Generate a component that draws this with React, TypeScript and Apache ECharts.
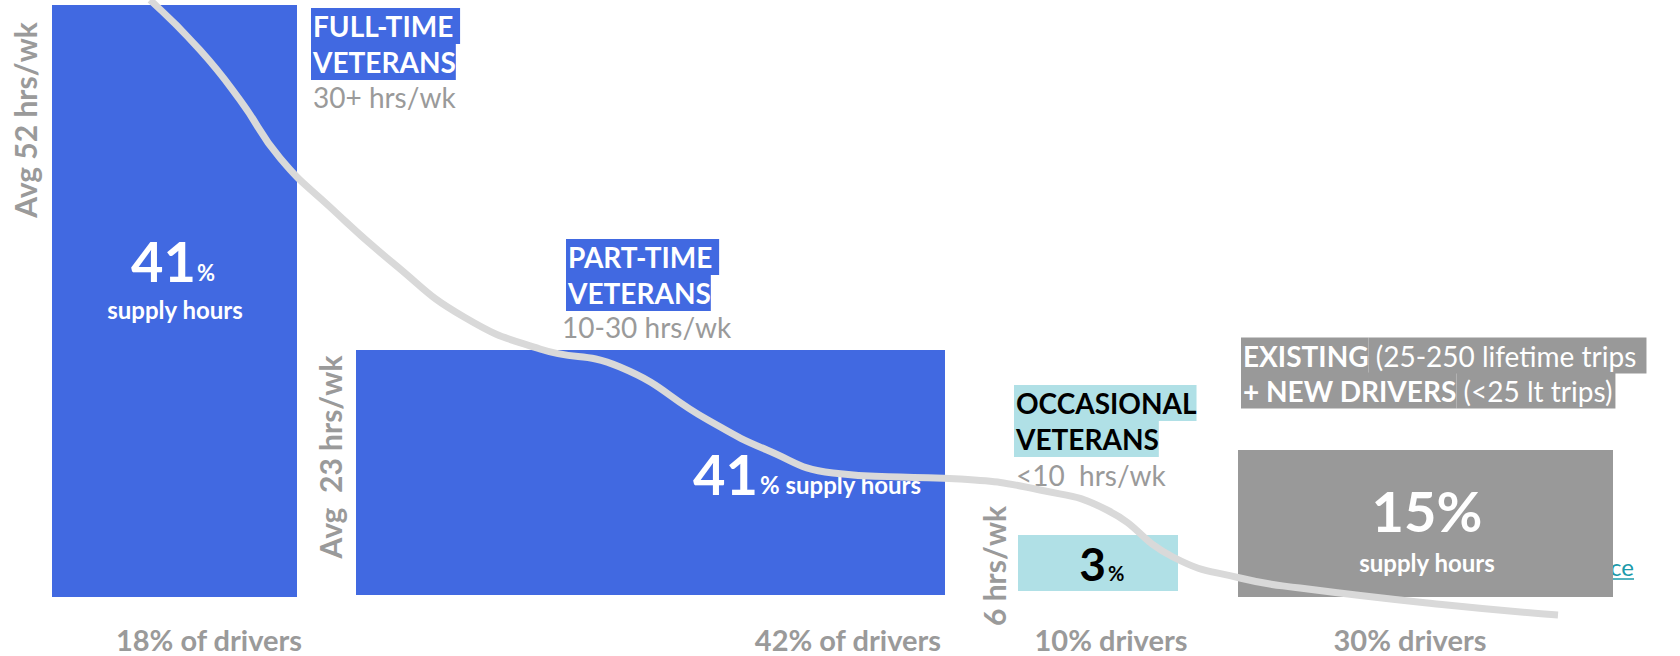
import React, { useEffect, useRef } from "react";
import * as echarts from "echarts";

const FONT = 'Lato, "Noto Sans", sans-serif';

// ---- data ----
const segments = ["Full-time veterans", "Part-time veterans", "Occasional veterans", "Existing + new drivers"];
const driverShare = [18, 42, 10, 30];
const supplyShare = [41, 41, 3, 15];
const avgHours = [52, 23, 6];
// bar extents in axis units (x: 0..1680, y: 0..656 top-down)
const barStart = [52, 356, 1018, 1238];
const barEnd = [297, 945, 1178, 1613];
const barTop = [5, 350, 535, 450];
const barBottom = [597, 595, 591, 597];
// cumulative curve, axis units
const curveX = [150, 200, 240, 280, 330, 393, 464, 540, 620, 708, 767, 833, 900, 960, 1040, 1107, 1173, 1240, 1300, 1447, 1558];
const curveY = [0, 50, 100, 158, 207, 263, 317, 349, 367, 420, 450, 473, 477, 479, 490, 510, 557, 578, 588, 605, 615];

const barColors = ["#4169E1", "#4169E1", "#B0E0E6", "#999999"];
const GRAY = "#9a9a9a";

function txt(x: number, y: number, text: string, o: any = {}) {
  return {
    type: "text",
    x,
    y,
    z: o.z ?? 5,
    rotation: o.rotation ?? 0,
    style: {
      text,
      fontFamily: FONT,
      fontSize: o.size ?? 28,
      fontWeight: o.weight ?? "bold",
      fill: o.color ?? GRAY,
      textAlign: o.align ?? "left",
      textVerticalAlign: o.valign ?? "middle",
    },
  };
}

function heading(x: number, y: number, lines: string[], color: string, bg: string, lh = 36) {
  const pad = Math.round((lh - 28) / 2);
  const mk = (w: string) => ({
    fontFamily: FONT,
    fontSize: 28,
    fontWeight: w,
    fill: color,
    backgroundColor: bg,
    lineHeight: lh,
    padding: [pad, 0, pad, 0],
  });
  return {
    type: "text",
    x,
    y,
    z: 5,
    style: {
      text: lines.join("\n"),
      textAlign: "left",
      textVerticalAlign: "top",
      fill: color,
      rich: {
        b: { ...mk("bold"), padding: [pad, 0, pad, 2] },
        n: mk("normal"),
        e: { ...mk("normal"), padding: [pad, 3, pad, 0] },
      },
    },
  };
}

export default function App() {
  const ref = useRef<HTMLDivElement>(null);
  useEffect(() => {
    if (!ref.current) return;
    const chart = echarts.init(ref.current, undefined, { renderer: "svg" });
    const rects = segments.map((name, i) => ({
      name,
      value: [barStart[i], barEnd[i], barTop[i], barBottom[i]],
    }));
    const curve = curveX.map((x, i) => [x, curveY[i]]);

    const graphic: any[] = [
      // rotated avg hours
      txt(25, 120, `Avg ${avgHours[0]} hrs/wk`, { rotation: Math.PI / 2, align: "center", size: 30 }),
      txt(330, 457, `Avg  ${avgHours[1]} hrs/wk`, { rotation: Math.PI / 2, align: "center", size: 30 }),
      txt(994, 566, `${avgHours[2]} hrs/wk`, { rotation: Math.PI / 2, align: "center", size: 30 }),
      // headings
      heading(311, 8, ["{b|FULL-TIME }", "{b|VETERANS}"], "#ffffff", "#4169E1"),
      heading(566, 239, ["{b|PART-TIME }", "{b|VETERANS}"], "#ffffff", "#4169E1"),
      heading(1014, 385, ["{b|OCCASIONAL}", "{b|VETERANS}"], "#000000", "#B0E0E6"),
      heading(1241, 338, ["{b|EXISTING}{e| (25-250 lifetime trips }", "{b|+ NEW DRIVERS}{e| (<25 lt trips)}"], "#ffffff", "#999999", 35),
      // sub labels
      txt(313, 97, "30+ hrs/wk", { weight: "normal" }),
      txt(562, 327, "10-30 hrs/wk", { weight: "normal" }),
      txt(1016, 475, "<10  hrs/wk", { weight: "normal" }),
      // bar 1 labels
      txt(196, 260, `${supplyShare[0]}`, { size: 56, color: "#fff", align: "right" }),
      txt(197, 272, "%", { size: 22, color: "#fff" }),
      txt(175, 309, "supply hours", { size: 24, color: "#fff", align: "center" }),
      // bar 2 labels
      txt(758, 473, `${supplyShare[1]}`, { size: 56, color: "#fff", align: "right" }),
      txt(760, 484, "% supply hours", { size: 24, color: "#fff" }),
      // bar 3 labels
      txt(1106, 563, `${supplyShare[2]}`, { size: 46, color: "#000", align: "right" }),
      txt(1108, 573, "%", { size: 20, color: "#000" }),
      // bar 4 labels
      txt(1427, 510, `${supplyShare[3]}%`, { size: 56, color: "#fff", align: "center" }),
      txt(1427, 562, "supply hours", { size: 24, color: "#fff", align: "center" }),
      // hidden link behind box
      txt(1634, 566, "Source", { size: 24, weight: "normal", color: "#1B9AAA", align: "right", z: 1 }),
      {
        type: "line",
        z: 1,
        shape: { x1: 1560, y1: 579, x2: 1634, y2: 579 },
        style: { stroke: "#1B9AAA", lineWidth: 1.5 },
      },
      // bottom driver shares
      txt(209, 639, `${driverShare[0]}% of drivers`, { align: "center", size: 29 }),
      txt(941, 639, `${driverShare[1]}% of drivers`, { align: "right", size: 29 }),
      txt(1111, 639, `${driverShare[2]}% drivers`, { align: "center", size: 29 }),
      txt(1410, 639, `${driverShare[3]}% drivers`, { align: "center", size: 29 }),
    ];

    chart.setOption({
      animation: false,
      backgroundColor: "#ffffff",
      grid: { left: 0, right: 0, top: 0, bottom: 0 },
      xAxis: { type: "value", min: 0, max: 1680, show: false },
      yAxis: { type: "value", min: 0, max: 656, inverse: true, show: false },
      series: [
        {
          type: "custom",
          z: 2,
          encode: { x: [0, 1], y: [2, 3] },
          data: rects,
          renderItem: (params: any, api: any) => {
            const p0 = api.coord([api.value(0), api.value(2)]);
            const p1 = api.coord([api.value(1), api.value(3)]);
            return {
              type: "rect",
              shape: { x: p0[0], y: p0[1], width: p1[0] - p0[0], height: p1[1] - p0[1] },
              style: { fill: barColors[params.dataIndex] },
            };
          },
        },
        {
          type: "line",
          z: 10,
          data: curve,
          smooth: 0.5,
          symbol: "none",
          lineStyle: { color: "#d9d9d9", width: 7, cap: "butt" },
        },
      ],
      graphic,
    });
    return () => chart.dispose();
  }, []);
  return (
    <div
      ref={ref}
      style={{ position: "fixed", left: 0, top: 0, width: 1680, height: 656, background: "#fff" }}
    />
  );
}
